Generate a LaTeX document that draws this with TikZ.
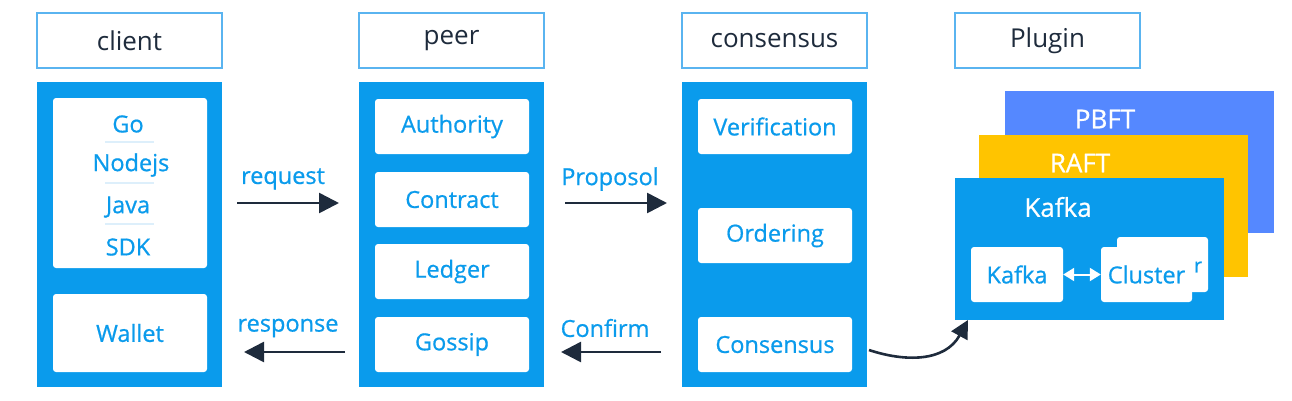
\documentclass[tikz,border=0pt]{standalone}
\usepackage{fontspec}
\setmainfont{Open Sans}
\newfontfamily\medfont[FakeBold=0.7]{Open Sans}
\usetikzlibrary{arrows.meta}
\definecolor{mblue}{HTML}{0A9BEC}
\definecolor{hblue}{HTML}{5AB4F0}
\definecolor{dtext}{HTML}{1E2B3C}
\definecolor{pbft}{HTML}{5588FF}
\definecolor{raft}{HTML}{FFC400}
\definecolor{sep}{HTML}{DDEFFB}
\tikzset{
  hdr/.style={draw=hblue, line width=1.2pt, fill=white, minimum width=185pt, minimum height=55pt, inner sep=0pt, text=dtext, font=\fontsize{26}{30}\selectfont},
  col/.style={fill=mblue, minimum width=185pt, minimum height=305pt, inner sep=0pt},
  item/.style={fill=white, rounded corners=3pt, minimum width=154pt, minimum height=55pt, inner sep=0pt, text=mblue, font=\medfont\fontsize{23.5}{27}\selectfont},
  lbl/.style={text=mblue, font=\medfont\fontsize{23.5}{27}\selectfont, inner sep=0pt},
  wlbl/.style={text=white, font=\medfont\fontsize{26}{30}\selectfont, inner sep=0pt},
  flow/.style={draw=dtext, line width=2.6pt, -{Triangle[length=20pt,width=20pt]}},
  plate/.style={minimum width=269pt, minimum height=142pt, inner sep=0pt},
  sbox/.style={fill=white, rounded corners=3pt, minimum height=55pt, inner sep=0pt, text=mblue, font=\medfont\fontsize{23.5}{27}\selectfont},
}
\begin{document}
\begin{tikzpicture}[x=1pt,y=-1pt]
\useasboundingbox (0,0) rectangle (1292,400);
% headers
\node[hdr] (hclient) at (129.5,40.5) {client};
\node[hdr] (hpeer) at (451.5,40.5) {peer};
\node[hdr] (hcons) at (774.5,40.5) {consensus};
\node[hdr] (hplug) at (1047.5,40.5) {Plugin};
% columns
\node[col] (cclient) at (129.5,234.5) {};
\node[col] (cpeer) at (451.5,234.5) {};
\node[col] (ccons) at (774.5,234.5) {};
% client
\node[item, minimum height=170pt] (sdk) at (130,183) {};
\node[lbl] (go) at (128,124) {Go};
\node[lbl] (node) at (131,165) {Nodejs};
\node[lbl] (java) at (128,207) {Java};
\node[lbl] (sdkt) at (128,247) {SDK};
\draw[sep, line width=1.5pt] (105,142) -- (154,142) (105,183) -- (154,183) (105,224) -- (154,224);
\node[item, minimum height=78pt] (wallet) at (130,333) {Wallet};
% peer
\node[item] (auth) at (452,126.5) {Authority};
\node[item] (contract) at (452,199.5) {Contract};
\node[item] (ledger) at (452,271.5) {Ledger};
\node[item] (gossip) at (452,344.5) {Gossip};
% consensus
\node[item] (verif) at (775,126.5) {Verification};
\node[item] (order) at (775,235.5) {Ordering};
\node[item] (consb) at (775,344.5) {Consensus};
% arrows
\coordinate (r1) at (237,203); \coordinate (r2) at (339,203);
\draw[flow] (r1) -- (r2);
\node[lbl] (treq) at (283,179) {request};
\coordinate (p1) at (565,203); \coordinate (p2) at (667,203);
\draw[flow] (p1) -- (p2);
\node[lbl] (tprop) at (610,179) {Proposol};
\coordinate (s1) at (345,352); \coordinate (s2) at (244,352);
\draw[flow] (s1) -- (s2);
\node[lbl] (tresp) at (288,328) {response};
\coordinate (c1) at (661,352); \coordinate (c2) at (561,352);
\draw[flow] (c1) -- (c2);
\node[lbl] (tconf) at (605,328) {Confirm};
% plugin plates
\node[plate, fill=pbft] (pb) at (1139.5,162) {};
\node[wlbl] (tpb) at (1105,119) {PBFT};
\node[plate, fill=raft] (ra) at (1113.5,206) {};
\node[wlbl] (tra) at (1080,163) {RAFT};
\node[plate, fill=mblue] (ka) at (1089.5,249) {};
\node[wlbl] (tka) at (1058,207) {Kafka};
\node[sbox, minimum width=92pt] (kb) at (1017,274.5) {Kafka};
\node[sbox, minimum width=91pt] (cb2) at (1162.5,264.5) {};
\node[sbox, minimum width=91pt] (cb) at (1146.5,274.5) {Cluster};
\node[text=mblue, font=\medfont\fontsize{20}{22}\selectfont, inner sep=0pt] (rr) at (1198,267) {r};
\draw[white, line width=2pt, {Triangle[length=11pt,width=13pt]}-{Triangle[length=11pt,width=13pt]}] (kb.east) -- (cb.west);
% curved arrow
\coordinate (cv1) at (869,350);
\coordinate (cv2) at (968,320);
\draw[draw=dtext, line width=2.6pt, -{Triangle[length=18pt,width=18pt]}] (cv1) .. controls (905,362) and (945,362) .. (cv2);
\end{tikzpicture}
\end{document}
